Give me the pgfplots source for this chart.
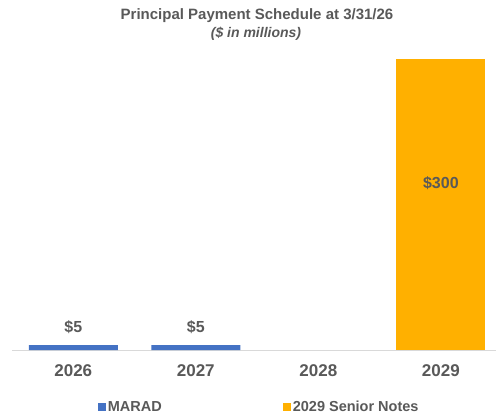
\documentclass[border=0pt]{standalone}
\usepackage{pgfplots}
\pgfplotsset{compat=1.18}
\usepackage{fontspec}
\setmainfont{Liberation Sans}
\definecolor{marad}{HTML}{4472C4}
\definecolor{notes}{HTML}{FFB000}
\definecolor{txt}{HTML}{595959}
\definecolor{axl}{HTML}{D9D9D9}
\begin{document}
\begin{tikzpicture}[x=1bp,y=1bp]
\path[use as bounding box] (0,0) rectangle (496,417);
\node[text=txt,font=\fontsize{15bp}{18bp}\selectfont\bfseries] at (257,401) {Principal Payment Schedule at 3/31/26};
\node[text=txt,font=\fontsize{14bp}{17bp}\selectfont\bfseries\itshape] at (256,383) {(\$ in millions)};
\begin{axis}[
  at={(12bp,67bp)}, anchor=south west,
  scale only axis, width=484bp, height=291bp,
  xmin=-0.5, xmax=3.45, ymin=0, ymax=300,
  axis x line=bottom, axis y line=none,
  x axis line style={-, draw=axl, line width=1bp},
  xtick={0,1,2,3}, xticklabels={2026,2027,2028,2029},
  major tick length=0pt,
  xticklabel style={text=txt, font=\fontsize{17bp}{20bp}\selectfont\bfseries, yshift=-11bp},
  ybar, bar width=89bp, bar shift=0pt,
  clip=false,
  /pgf/number format/assume math mode=true,
  legend columns=2,
  legend style={draw=none, fill=none, at={(0.177,-0.196)}, anchor=west, inner sep=0pt,
    font=\fontsize{14.5bp}{17bp}\selectfont\bfseries, text=txt,
    /tikz/every even column/.append style={column sep=119bp}},
  legend image code/.code={\fill[#1] (0bp,-4bp) rectangle (8bp,4bp);},
  nodes near coords={\$\pgfmathprintnumber{\pgfplotspointmeta}},
  every node near coord/.append style={text=txt, font=\fontsize{16bp}{19bp}\selectfont\bfseries},
]
\addplot[fill=marad, draw=none, every node near coord/.append style={yshift=8bp}] coordinates {(0,5) (1,5)};
\addlegendentry{MARAD}
\addplot[fill=notes, draw=none, every node near coord/.append style={anchor=center, yshift=-124bp}] coordinates {(3,300)};
\addlegendentry{2029 Senior Notes}
\end{axis}
\end{tikzpicture}
\end{document}
